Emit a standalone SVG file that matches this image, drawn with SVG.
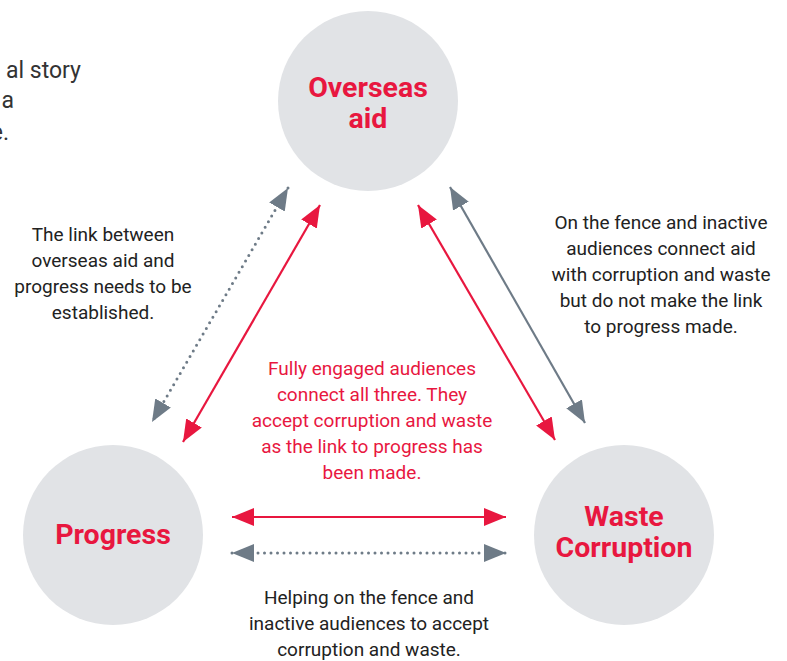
<svg xmlns="http://www.w3.org/2000/svg" width="787" height="661" viewBox="0 0 787 661">
<style>
.circ{fill:#e1e3e6}
.lbl{font-family:Roboto,"Liberation Sans",sans-serif;font-weight:700;font-size:28.5px;fill:#e8173f;text-anchor:middle}
.txt{font-family:Roboto,"Liberation Sans",sans-serif;font-size:19px;fill:#222;text-anchor:middle}
.red{fill:#e8173f}
.lead{font-family:Roboto,"Liberation Sans",sans-serif;font-size:23px;fill:#333;text-anchor:end}
.lr{stroke:#e8173f;stroke-width:2.2;fill:none}
.lg{stroke:#6e7b87;stroke-width:2.2;fill:none}
.ld{stroke:#6e7b87;stroke-width:3;fill:none;stroke-dasharray:0 6.5;stroke-linecap:round}
</style>
<defs>
<marker id="hr" viewBox="0 0 22 18" refX="22" refY="9" markerWidth="22" markerHeight="18" markerUnits="userSpaceOnUse" orient="auto-start-reverse">
<path d="M0,0 L22,9 L0,18 Z" fill="#e8173f"/>
</marker>
<marker id="hg" viewBox="0 0 22 18" refX="22" refY="9" markerWidth="22" markerHeight="18" markerUnits="userSpaceOnUse" orient="auto-start-reverse">
<path d="M0,0 L22,9 L0,18 Z" fill="#6e7b87"/>
</marker>
</defs>
<g id="lead-text">
<text class="lead" x="81" y="78">al story</text>
<text class="lead" x="14" y="108">a</text>
<text class="lead" x="9" y="140">e.</text>
</g>
<g id="node-overseas">
<circle class="circ" cx="368" cy="101" r="90"/>
<text class="lbl" x="368" y="97">Overseas</text>
<text class="lbl" x="368" y="128">aid</text>
</g>
<g id="node-progress">
<circle class="circ" cx="113" cy="535" r="90"/>
<text class="lbl" x="113" y="544">Progress</text>
</g>
<g id="node-waste">
<circle class="circ" cx="624" cy="535" r="90"/>
<text class="lbl" x="624" y="526">Waste</text>
<text class="lbl" x="624" y="557">Corruption</text>
</g>
<g id="connectors">
<line class="ld" x1="288" y1="188" x2="152" y2="422" marker-start="url(#hg)" marker-end="url(#hg)"/>
<line class="lr" x1="320" y1="205" x2="183" y2="442" marker-start="url(#hr)" marker-end="url(#hr)"/>
<line class="lr" x1="418" y1="205" x2="555" y2="440" marker-start="url(#hr)" marker-end="url(#hr)"/>
<line class="lg" x1="450" y1="187" x2="585" y2="423" marker-start="url(#hg)" marker-end="url(#hg)"/>
<line class="lr" x1="232" y1="517" x2="506" y2="517" marker-start="url(#hr)" marker-end="url(#hr)"/>
<line class="ld" x1="232" y1="553" x2="506" y2="553" marker-start="url(#hg)" marker-end="url(#hg)"/>
</g>
<g id="label-left">
<text class="txt" x="103" y="241">The link between</text>
<text class="txt" x="103" y="267">overseas aid and</text>
<text class="txt" x="103" y="293">progress needs to be</text>
<text class="txt" x="103" y="319">established.</text>
</g>
<g id="label-right">
<text class="txt" x="661" y="229">On the fence and inactive</text>
<text class="txt" x="661" y="255">audiences connect aid</text>
<text class="txt" x="661" y="281">with corruption and waste</text>
<text class="txt" x="661" y="307">but do not make the link</text>
<text class="txt" x="661" y="333">to progress made.</text>
</g>
<g id="label-center">
<text class="txt red" x="372" y="375">Fully engaged audiences</text>
<text class="txt red" x="372" y="401">connect all three. They</text>
<text class="txt red" x="372" y="427">accept corruption and waste</text>
<text class="txt red" x="372" y="453">as the link to progress has</text>
<text class="txt red" x="372" y="479">been made.</text>
</g>
<g id="label-bottom">
<text class="txt" x="369" y="604">Helping on the fence and</text>
<text class="txt" x="369" y="630">inactive audiences to accept</text>
<text class="txt" x="369" y="656">corruption and waste.</text>
</g>
</svg>
